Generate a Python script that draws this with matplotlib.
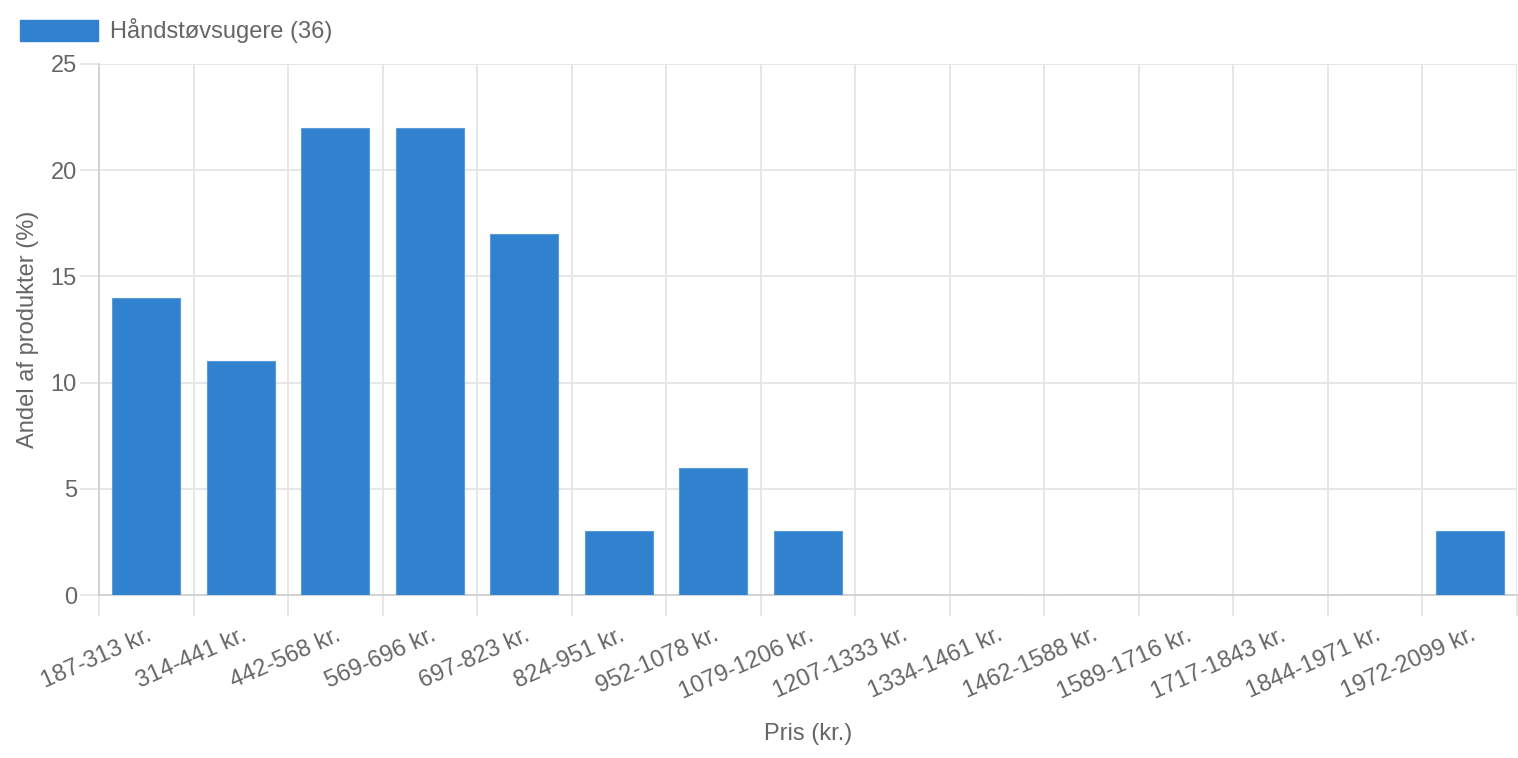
import numpy as np
import matplotlib
matplotlib.use('Agg')
import matplotlib.pyplot as plt
from matplotlib.patches import Patch

plt.rcParams['font.family'] = ['Liberation Sans', 'DejaVu Sans']

# data
kategorier = ['187-313 kr.', '314-441 kr.', '442-568 kr.', '569-696 kr.', '697-823 kr.',
              '824-951 kr.', '952-1078 kr.', '1079-1206 kr.', '1207-1333 kr.', '1334-1461 kr.',
              '1462-1588 kr.', '1589-1716 kr.', '1717-1843 kr.', '1844-1971 kr.', '1972-2099 kr.']
andel = [14, 11, 22, 22, 17, 3, 6, 3, 0, 0, 0, 0, 0, 0, 3]
serie_navn = 'Håndstøvsugere (36)'

BLAA = '#3182ce'
TEKST = '#666666'
GRID = '#e5e5e5'
FS = 17

W, H = 1518, 758
fig = plt.figure(figsize=(W / 100, H / 100), dpi=100)
ax = fig.add_axes([99 / W, 1 - 595 / H, (1517 - 99) / W, (595 - 64) / H])

x = np.arange(len(kategorier))
ax.bar(x, andel, width=0.72, color=BLAA, edgecolor='#5a9ad8', linewidth=0.8, zorder=3)

ax.set_xlim(-0.5, len(kategorier) - 0.5)
ax.set_ylim(0, 25)
ax.set_yticks([0, 5, 10, 15, 20, 25])

# grid lines between the categories
ax.set_xticks(x)
ax.set_xticks(np.arange(len(kategorier) + 1) - 0.5, minor=True)
ax.set_xticklabels(kategorier, rotation=24, ha='right', rotation_mode='anchor',
                   fontsize=FS, color=TEKST)
ax.tick_params(axis='x', which='major', length=0, pad=21)
ax.tick_params(axis='x', which='minor', length=15, color=GRID, width=1.3)
ax.tick_params(axis='y', length=14, color=GRID, width=1.3, pad=2,
               labelsize=FS, labelcolor=TEKST)
ax.grid(axis='x', which='minor', color=GRID, linewidth=1.3, zorder=0)
ax.grid(axis='y', which='major', color=GRID, linewidth=1.3, zorder=0)

for s in ['top', 'right']:
    ax.spines[s].set_visible(False)
ax.spines['left'].set_color('#d0d0d0')
ax.spines['bottom'].set_color('#d0d0d0')
ax.spines['left'].set_linewidth(1.3)
ax.spines['bottom'].set_linewidth(1.3)

ax.set_xlabel('Pris (kr.)', fontsize=FS, color=TEKST, labelpad=14)
ax.set_ylabel('Andel af produkter (%)', fontsize=FS, color=TEKST, labelpad=8)

leg = fig.legend(handles=[Patch(facecolor=BLAA, edgecolor=BLAA)], labels=[serie_navn],
                 loc='upper left', bbox_to_anchor=(11 / W, 1 - 9 / H), frameon=False,
                 fontsize=FS, handlelength=3.3, handleheight=0.97, handletextpad=0.5,
                 borderaxespad=0)
for t in leg.get_texts():
    t.set_color(TEKST)

fig.savefig('out.png', dpi=100)
